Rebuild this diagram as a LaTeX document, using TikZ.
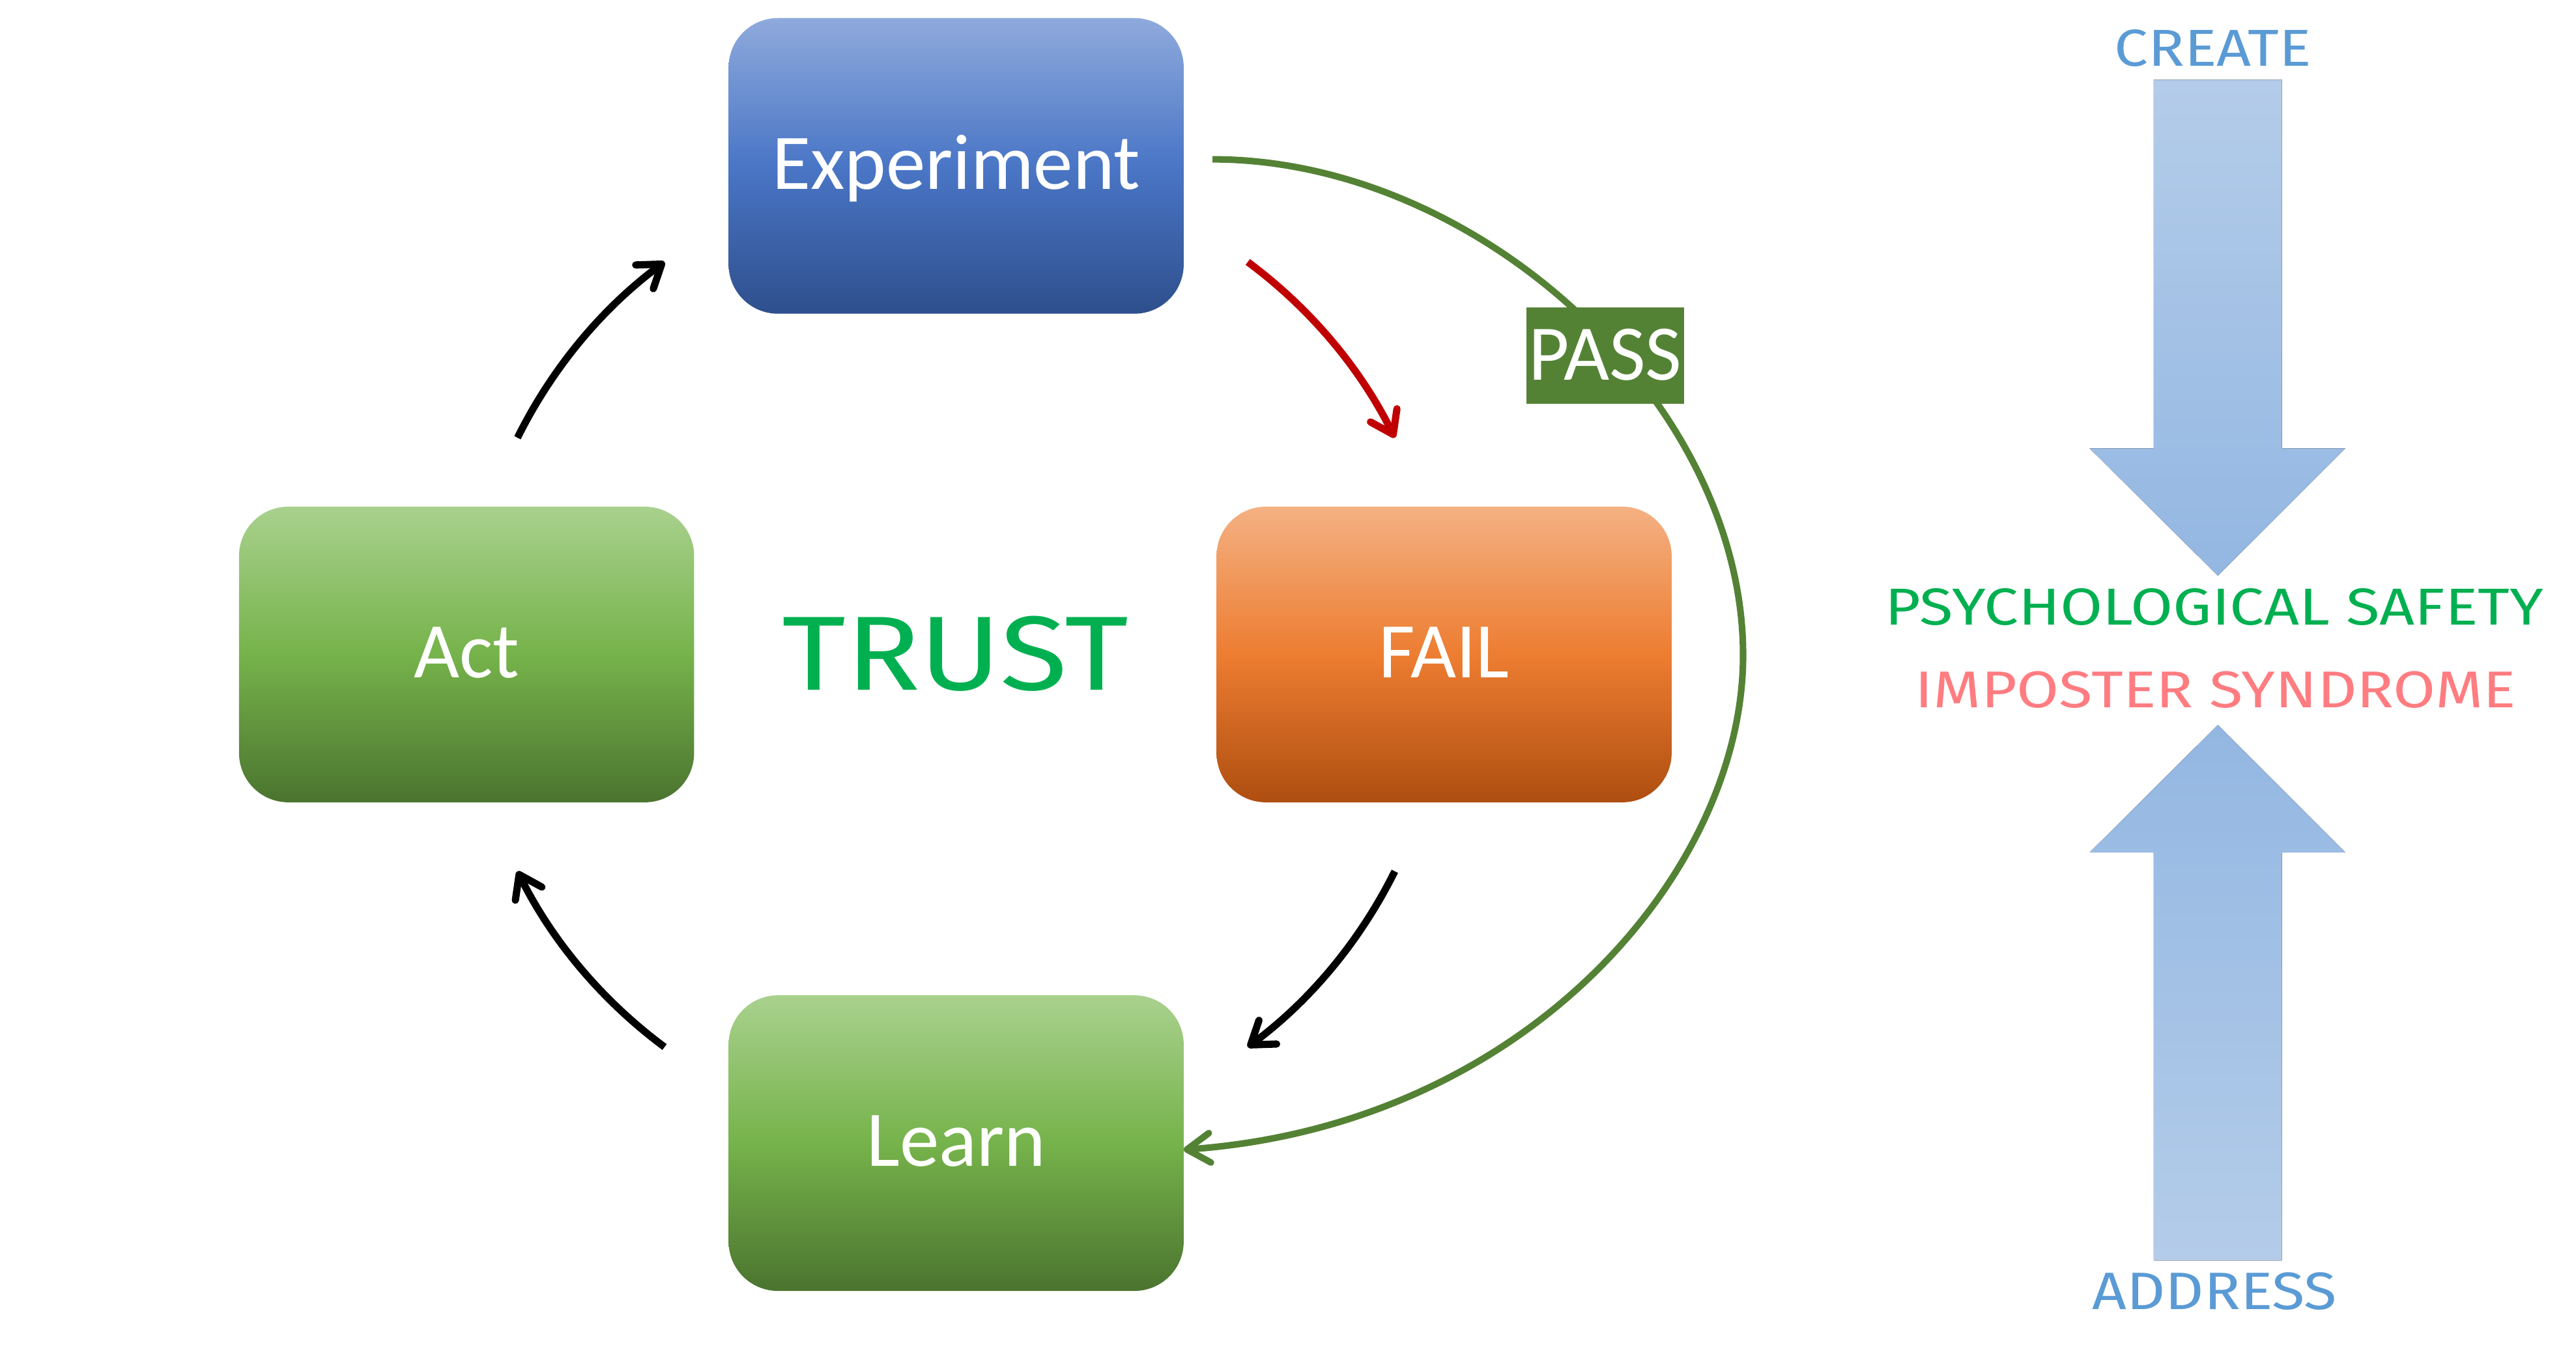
\documentclass[tikz,border=0pt]{standalone}
\usepackage{fontspec}
\setmainfont{Carlito}
\newfontfamily\techfont{Fira Sans}
\usetikzlibrary{arrows.meta}
\definecolor{expTop}{HTML}{8FAADC}
\definecolor{expMid}{HTML}{4A76C6}
\definecolor{expBot}{HTML}{2E4F8C}
\definecolor{grnTop}{HTML}{A9D18E}
\definecolor{grnMid}{HTML}{76B34B}
\definecolor{grnBot}{HTML}{4B742F}
\definecolor{orTop}{HTML}{F4B183}
\definecolor{orMid}{HTML}{ED7D31}
\definecolor{orBot}{HTML}{AE4E10}
\definecolor{passGreen}{HTML}{548235}
\definecolor{failRed}{HTML}{C00000}
\definecolor{trustGreen}{HTML}{00B050}
\definecolor{pinkText}{HTML}{FF7C80}
\definecolor{blueText}{HTML}{5B9BD5}
\definecolor{arrLight}{HTML}{B4CCE9}
\definecolor{arrDark}{HTML}{93B7E2}
\begin{document}
\begin{tikzpicture}[x=1pt,y=-1pt,
  stagebox/.style={rounded corners=30pt, minimum width=277pt, minimum height=180pt,
    inner sep=0pt, text=white, font=\fontsize{48}{48}\selectfont,
    text height=30pt, text depth=2pt},
  bluebox/.style={stagebox, top color=expTop, bottom color=expBot, middle color=expMid},
  greenbox/.style={stagebox, top color=grnTop, bottom color=grnBot, middle color=grnMid},
  orangebox/.style={stagebox, top color=orTop, bottom color=orBot, middle color=orMid},
  cyclearrow/.style={line width=4.4pt, -{Straight Barb[length=13pt,width=18pt,round]}},
  passline/.style={line width=4pt, draw=passGreen, -{Straight Barb[length=14pt,width=18pt,round]}},
  sidetext/.style={anchor=base, inner sep=0pt},
  bigarrow/.style={draw=none}
]
\useasboundingbox[fill=white] (0,0) rectangle (1568,825.6);

% stage boxes
\node[bluebox]   (exp)   at (582,101)   {Experiment};
\node[greenbox]  (act)   at (284,398.5) {Act};
\node[orangebox] (fail)  at (879,398.5) {FAIL};
\node[greenbox]  (learn) at (582,696)   {Learn};

% centre text
\node[sidetext, text=trustGreen] (trust) at (581.5,420)
  {\resizebox{211pt}{45pt}{\techfont TRUST}};

% cycle arrows
\coordinate (aeS) at (315,266.5);   \coordinate (aeE) at (404.5,159.5);
\coordinate (efS) at (759.5,159.5); \coordinate (efE) at (849,266.5);
\coordinate (flS) at (849,530.5);   \coordinate (flE) at (759.5,637.5);
\coordinate (laS) at (404.5,637.5); \coordinate (laE) at (315,530.5);
\draw[cyclearrow] (aeS) to[bend left=13.5, looseness=0.87] (aeE);
\draw[cyclearrow, draw=failRed] (efS) to[bend left=13.5, looseness=0.87] (efE);
\draw[cyclearrow] (flS) to[bend left=13.5, looseness=0.87] (flE);
\draw[cyclearrow] (laS) to[bend left=13.5, looseness=0.87] (laE);

% pass loop
\coordinate (gStart) at (738,97);
\coordinate (gMid) at (1061,399);
\coordinate (gEnd) at (720.5,700);
\draw[passline] (gStart) .. controls (900,97) and (1061,245) .. (gMid)
  .. controls (1061,530) and (930,685) .. (gEnd);
\node[fill=passGreen, minimum width=96pt, minimum height=59pt, inner sep=0pt,
  text=white, font=\fontsize{48}{48}\selectfont, text height=30pt, text depth=0pt]
  (pass) at (977,216.5) {PASS};

% right side big arrows
\fill[bigarrow, top color=arrLight, bottom color=arrDark]
  (1311,48.5) -- (1389,48.5) -- (1389,273) -- (1427.6,273) -- (1350,350.5)
  -- (1272,273) -- (1311,273) -- cycle;
\fill[bigarrow, top color=arrDark, bottom color=arrLight]
  (1350,441.4) -- (1427.6,519) -- (1389,519) -- (1389,767.5) -- (1311,767.5)
  -- (1311,519) -- (1272,519) -- cycle;

% right side texts
\node[sidetext, text=blueText] (create) at (1347,40.4)
  {\resizebox{120pt}{22.2pt}{\techfont CREATE}};
\node[sidetext, text=trustGreen] (psych) at (1347.9,380.3)
  {\resizebox{400.7pt}{22.2pt}{\techfont PSYCHOLOGICAL SAFETY}};
\node[sidetext, text=pinkText] (imposter) at (1348.7,430.9)
  {\resizebox{365.6pt}{22.1pt}{\techfont IMPOSTER SYNDROME}};
\node[sidetext, text=blueText] (address) at (1348,797.1)
  {\resizebox{149pt}{22.5pt}{\techfont ADDRESS}};
\end{tikzpicture}
\end{document}
